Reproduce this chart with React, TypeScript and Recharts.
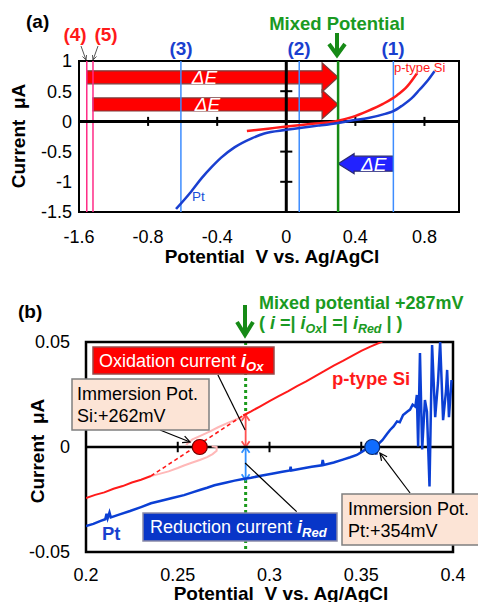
import React from 'react';
import { LineChart, Line, XAxis, YAxis, ReferenceLine, ReferenceArea, ReferenceDot } from 'recharts';

const FONT = '"Liberation Sans", Arial, Helvetica, sans-serif';

// ---------- panel (a) ----------
// the axis is broken at its left end: the -1.2 position carries the label -1.6
const xTicksA = [-1.2, -0.8, -0.4, 0, 0.4, 0.8];
const xTickLabelsA = ['-1.6', '-0.8', '-0.4', '0', '0.4', '0.8'];
const yTicksA = [-1.5, -1, -0.5, 0, 0.5, 1];
const yTickLabelsA = ['-1.5', '-1', '-0.5', '0', '0.5', '1'];
const xTickMarksA = [-0.8, -0.4, 0.4, 0.8];
const yTickMarksA = [0.5, -0.5, -1];

const siCurveA = [
  { x: -0.228, y: -0.16 }, { x: -0.106, y: -0.12 }, { x: 0, y: -0.085 },
  { x: 0.15, y: -0.04 }, { x: 0.28, y: 0.0 }, { x: 0.38, y: 0.07 },
  { x: 0.47, y: 0.17 }, { x: 0.56, y: 0.29 }, { x: 0.64, y: 0.43 },
  { x: 0.7, y: 0.58 }, { x: 0.755, y: 0.79 },
];
const ptCurveA = [
  { x: -0.638, y: -1.45 }, { x: -0.55, y: -1.16 }, { x: -0.49, y: -0.94 },
  { x: -0.43, y: -0.75 }, { x: -0.377, y: -0.6 }, { x: -0.3, y: -0.43 },
  { x: -0.2, y: -0.28 }, { x: -0.127, y: -0.2 }, { x: 0, y: -0.14 },
  { x: 0.1, y: -0.1 }, { x: 0.185, y: -0.07 }, { x: 0.3, y: -0.025 },
  { x: 0.38, y: 0.015 }, { x: 0.475, y: 0.055 }, { x: 0.567, y: 0.12 },
  { x: 0.62, y: 0.17 }, { x: 0.67, y: 0.26 }, { x: 0.725, y: 0.38 },
  { x: 0.77, y: 0.52 }, { x: 0.82, y: 0.68 }, { x: 0.858, y: 0.83 },
];

const refLinesA = [
  { name: '(4)', x: -1.155, color: '#ff2a86' },
  { name: '(5)', x: -1.119, color: '#ff2a86' },
  { name: '(3)', x: -0.61, color: '#3d8dff' },
  { name: '(2)', x: 0.075, color: '#3d8dff' },
  { name: '(1)', x: 0.62, color: '#3d8dff' },
];
const mixedPotentialA = 0.3;

const deltaEArrows = [
  { from: -1.155, to: 0.3, yLow: 0.49, yHigh: 0.97, fill: '#ff0000', stroke: '#7a3c3c', body: 0.45 },
  { from: -1.119, to: 0.3, yLow: 0.04, yHigh: 0.52, fill: '#ff0000', stroke: '#7a3c3c', body: 0.45 },
  { from: 0.62, to: 0.3, yLow: -0.866, yHigh: -0.534, fill: '#2222ff', stroke: '#2a2a70', body: 0.75 },
];

// ---------- panel (b) ----------
const xTicksB = [0.2, 0.25, 0.3, 0.35, 0.4];
const xTickLabelsB = ['0.2', '0.25', '0.3', '0.35', '0.4'];
const yTicksB = [-0.05, 0, 0.05];
const yTickLabelsB = ['-0.05', '0', '0.05'];
const xTickMarksB = [0.25, 0.3, 0.35];

const siLowB = [
  [0.2, -0.0243], [0.205, -0.0228], [0.21, -0.0216], [0.215, -0.0199], [0.22, -0.0186],
  [0.225, -0.0169], [0.23, -0.0156], [0.2354, -0.0138],
].map(([x, y]) => ({ x, y }));
const siDashB = [[0.2354, -0.0138], [0.2856, 0.015]].map(([x, y]) => ({ x, y }));
const siHighB = [
  [0.2856, 0.015], [0.29, 0.017], [0.295, 0.0194], [0.3, 0.0218], [0.305, 0.0242],
  [0.31, 0.0265], [0.315, 0.029], [0.32, 0.0312], [0.325, 0.0338], [0.33, 0.0362],
  [0.335, 0.0388], [0.34, 0.041], [0.345, 0.0434], [0.35, 0.0458], [0.355, 0.0478],
  [0.3615, 0.0502],
].map(([x, y]) => ({ x, y }));
// faint trace of the first sweep
const siTraceLowerB = [
  [0.2354, -0.0138], [0.24, -0.0128], [0.245, -0.0116], [0.25, -0.01], [0.2534, -0.0088],
  [0.258, -0.0074], [0.262, -0.0062], [0.266, -0.0048], [0.269, -0.0034], [0.2712, -0.0018],
  [0.2712, 0.0], [0.2685, 0.0004],
].map(([x, y]) => ({ x, y }));
const siTraceUpperB = [
  [0.2545, 0.001], [0.258, 0.0036], [0.262, 0.0052], [0.2676, 0.0074], [0.272, 0.0094],
  [0.277, 0.0114], [0.2815, 0.013], [0.2856, 0.0145],
].map(([x, y]) => ({ x, y }));
const ptCurveB = [
  [0.2, -0.0376], [0.204, -0.0366], [0.208, -0.0352], [0.2105, -0.0344], [0.2112, -0.0318],
  [0.2118, -0.034], [0.2128, -0.0312], [0.2135, -0.0335], [0.218, -0.0322], [0.224, -0.0305],
  [0.23, -0.0286], [0.2354, -0.0268], [0.241, -0.0256], [0.247, -0.0243], [0.2534, -0.0229],
  [0.258, -0.0216], [0.262, -0.0205], [0.266, -0.0194], [0.27, -0.0182], [0.276, -0.017],
  [0.281, -0.016], [0.2856, -0.0152], [0.29, -0.0146], [0.296, -0.0136], [0.302, -0.0126],
  [0.307, -0.0118], [0.3112, -0.0112], [0.3115, -0.0094], [0.3119, -0.0112], [0.317, -0.0104],
  [0.323, -0.0094], [0.3285, -0.0087], [0.329, -0.0062], [0.3296, -0.0086], [0.335, -0.0074],
  [0.34, -0.006], [0.344, -0.0049], [0.3476, -0.0038], [0.3505, -0.0022], [0.353, -0.0008],
  [0.3555, 0.0004], [0.3575, 0.0008], [0.3582, -0.0036], [0.359, 0.0012], [0.3615, 0.0032],
  [0.364, 0.0062], [0.3657, 0.0081], [0.3676, 0.0098], [0.3695, 0.0122], [0.371, 0.0118],
  [0.3728, 0.0152], [0.375, 0.0168], [0.3766, 0.0178], [0.378, 0.0202], [0.3795, 0.0192],
  [0.3803, 0.0248], [0.381, 0.0002], [0.382, 0.0448], [0.3832, -0.0012], [0.3847, 0.0224],
  [0.3858, 0.0168], [0.3872, -0.0188], [0.3886, 0.0486], [0.3903, 0.0142], [0.3918, 0.0305],
  [0.393, 0.05], [0.3946, 0.0128], [0.3962, 0.0268], [0.3968, 0.0367], [0.3978, 0.0142],
  [0.3992, 0.0319],
].map(([x, y]) => ({ x, y }));

const mixedPotentialB = 0.287;
const immersionSi = 0.262;
const immersionPt = 0.356;
const currentArrowsB = [
  { y1: 0, y2: 0.0152, color: '#ff5050' },
  { y1: -0.0157, y2: 0, color: '#2f8fff' },
];
// the dotted mixed-potential line is hidden behind the two current arrows
const mixedLineSpansB = [
  { y1: 0.0152, y2: 0.05 },
  { y1: -0.05, y2: -0.0157 },
];
const leadersB = [
  { from: { x: 0.2719, y: 0.0343 }, to: { x: 0.2867, y: 0.0081 }, head: false },
  { from: { x: 0.3148, y: -0.0308 }, to: { x: 0.2867, y: -0.0076 }, head: false },
  { from: { x: 0.2403, y: 0.0081 }, to: { x: 0.2567, y: 0.0024 }, head: true },
  { from: { x: 0.3766, y: -0.0219 }, to: { x: 0.3602, y: -0.0029 }, head: true },
];

const openHead = (x1: number, y1: number, x2: number, y2: number, size: number, color: string, w = 1.3, spread = 0.45) => {
  const ang = Math.atan2(y2 - y1, x2 - x1);
  const a1 = ang + Math.PI - spread;
  const a2 = ang + Math.PI + spread;
  return (
    <polyline
      points={`${x2 + size * Math.cos(a1)},${y2 + size * Math.sin(a1)} ${x2},${y2} ${x2 + size * Math.cos(a2)},${y2 + size * Math.sin(a2)}`}
      fill="none" stroke={color} strokeWidth={w}
    />
  );
};

const leaderShape = (head: boolean) => (p: any) => (
  <g>
    <line x1={p.x1} y1={p.y1} x2={p.x2} y2={p.y2} stroke="#000" strokeWidth={1.2} />
    {head ? openHead(p.x1, p.y1, p.x2, p.y2, 8, '#000', 1.2) : null}
  </g>
);

// vertical dotted line drawn in the middle of a narrow reference area
const dottedShape = (color: string) => (p: any) => {
  const cx = p.x + p.width / 2;
  return <line x1={cx} y1={p.y} x2={cx} y2={p.y + p.height} stroke={color} strokeWidth={3} strokeDasharray="3 3" />;
};

// vertical double-headed arrow drawn in the middle of a narrow reference area
const doubleArrowShape = (color: string) => (p: any) => {
  const cx = p.x + p.width / 2;
  const top = p.y;
  const bottom = p.y + p.height;
  return (
    <g>
      <line x1={cx} y1={top} x2={cx} y2={bottom} stroke={color} strokeWidth={1.8} />
      {openHead(cx, bottom, cx, top, 7, color, 1.8, 0.6)}
      {openHead(cx, top, cx, bottom, 7, color, 1.8, 0.6)}
    </g>
  );
};

const blockArrow = (dir: number, fill: string, stroke: string, body: number) => (p: any) => {
  const { x, y, width, height } = p;
  const cy = y + height / 2;
  const hh = height / 2;
  const hb = hh * body;
  const headLen = 16;
  let pts: number[][];
  let tx: number;
  if (dir > 0) {
    const tip = x + width;
    const base = tip - headLen;
    pts = [[x, cy - hb], [base, cy - hb], [base, cy - hh], [tip, cy], [base, cy + hh], [base, cy + hb], [x, cy + hb]];
    tx = x + (width - headLen) / 2;
  } else {
    const base = x + headLen;
    const end = x + width;
    pts = [[end, cy - hb], [base, cy - hb], [base, cy - hh], [x, cy], [base, cy + hh], [base, cy + hb], [end, cy + hb]];
    tx = base + (end - base) / 2;
  }
  return (
    <g>
      <polygon points={pts.map((q) => q.join(',')).join(' ')} fill={fill} stroke={stroke} strokeWidth={1.2} />
      <text x={tx} y={cy} dy="0.36em" textAnchor="middle" fill="#fff" fontStyle="italic" fontSize={19} fontFamily={FONT}>
        ΔE
      </text>
    </g>
  );
};

const tickStyle = { fontSize: 18, fill: '#000', fontFamily: FONT };

const PanelA = () => (
  <LineChart width={478} height={280} margin={{ top: 61, right: 19, bottom: 38, left: 19 }}>
    <XAxis
      type="number" dataKey="x" domain={[-1.2, 1.0]} ticks={xTicksA} interval={0}
      tickFormatter={(v: number) => xTickLabelsA[xTicksA.indexOf(v)]}
      axisLine={false} tickLine={false} tickSize={0} tickMargin={18} tick={tickStyle} allowDataOverflow
    />
    <YAxis
      type="number" domain={[-1.5, 1]} ticks={yTicksA} interval={0}
      tickFormatter={(v: number) => yTickLabelsA[yTicksA.indexOf(v)]}
      axisLine={false} tickLine={false} tickSize={0} tickMargin={7} tick={tickStyle} allowDataOverflow
    />
    {refLinesA.map((r) => (
      <ReferenceLine key={r.name} x={r.x} stroke={r.color} strokeWidth={1.5} />
    ))}
    <ReferenceLine y={0} stroke="#000" strokeWidth={3} />
    <ReferenceLine x={0} stroke="#000" strokeWidth={3} />
    {xTickMarksA.map((t) => (
      <ReferenceLine key={'xt' + t} segment={[{ x: t, y: -0.075 }, { x: t, y: 0.075 }]} stroke="#000" strokeWidth={2} />
    ))}
    {yTickMarksA.map((t) => (
      <ReferenceLine key={'yt' + t} segment={[{ x: -0.035, y: t }, { x: 0.035, y: t }]} stroke="#000" strokeWidth={2} />
    ))}
    <ReferenceLine x={mixedPotentialA} stroke="#168a16" strokeWidth={2.5} />
    {deltaEArrows.map((a, i) => (
      <ReferenceArea
        key={'de' + i} x1={a.from} x2={a.to} y1={a.yLow} y2={a.yHigh}
        shape={blockArrow(a.to > a.from ? 1 : -1, a.fill, a.stroke, a.body)}
      />
    ))}
    <Line data={siCurveA} dataKey="y" type="monotone" stroke="#ff1a1a" strokeWidth={2.5} dot={false} isAnimationActive={false} />
    <Line data={ptCurveA} dataKey="y" type="monotone" stroke="#1a3fd0" strokeWidth={2.5} dot={false} isAnimationActive={false} />
    <ReferenceArea x1={-1.2} x2={1.0} y1={-1.5} y2={1} fill="none" stroke="#000" strokeWidth={2} />
  </LineChart>
);

const PanelB = () => (
  <LineChart width={478} height={322} margin={{ top: 62, right: 25, bottom: 20, left: 26 }}>
    <XAxis
      type="number" dataKey="x" domain={[0.2, 0.4]} ticks={xTicksB} interval={0}
      tickFormatter={(v: number) => xTickLabelsB[xTicksB.indexOf(v)]}
      axisLine={false} tickLine={false} tickSize={0} tickMargin={16} tick={tickStyle} allowDataOverflow
    />
    <YAxis
      type="number" domain={[-0.05, 0.05]} ticks={yTicksB} interval={0}
      tickFormatter={(v: number) => yTickLabelsB[yTicksB.indexOf(v)]}
      axisLine={false} tickLine={false} tickSize={0} tickMargin={16} tick={tickStyle} allowDataOverflow
    />
    <ReferenceLine y={0} stroke="#000" strokeWidth={2.5} />
    {xTickMarksB.map((t) => (
      <ReferenceLine key={'xt' + t} segment={[{ x: t, y: -0.0025 }, { x: t, y: 0.0025 }]} stroke="#000" strokeWidth={2} />
    ))}
    <Line data={siTraceLowerB} dataKey="y" stroke="#ffb8b8" strokeWidth={2} dot={false} isAnimationActive={false} />
    <Line data={siTraceUpperB} dataKey="y" stroke="#ffb8b8" strokeWidth={2} dot={false} isAnimationActive={false} />
    <Line data={siLowB} dataKey="y" stroke="#ff1a1a" strokeWidth={2} dot={false} isAnimationActive={false} />
    <Line data={siDashB} dataKey="y" stroke="#ff1a1a" strokeWidth={1.6} strokeDasharray="4 3" dot={false} isAnimationActive={false} />
    <Line data={siHighB} dataKey="y" stroke="#ff1a1a" strokeWidth={2} dot={false} isAnimationActive={false} />
    <Line data={ptCurveB} dataKey="y" stroke="#0b3fd4" strokeWidth={2.5} dot={false} isAnimationActive={false} />
    {leadersB.map((l, i) => (
      <ReferenceLine key={'ld' + i} segment={[l.from, l.to]} ifOverflow="visible" shape={leaderShape(l.head)} />
    ))}
    {mixedLineSpansB.map((s, i) => (
      <ReferenceArea
        key={'ml' + i} x1={mixedPotentialB - 0.002} x2={mixedPotentialB + 0.002} y1={s.y1} y2={s.y2}
        shape={dottedShape('#1c9a1c')}
      />
    ))}
    {currentArrowsB.map((a, i) => (
      <ReferenceArea
        key={'ca' + i} x1={mixedPotentialB - 0.002} x2={mixedPotentialB + 0.002} y1={a.y1} y2={a.y2}
        ifOverflow="visible" shape={doubleArrowShape(a.color)}
      />
    ))}
    <ReferenceDot x={immersionSi} y={0} r={7.5} fill="#ff0000" stroke="#6a0000" strokeWidth={1.2} />
    <ReferenceDot x={immersionPt} y={0} r={7.5} fill="#0f6cff" stroke="#0a2a6a" strokeWidth={1.2} />
    <ReferenceArea x1={0.2} x2={0.4} y1={-0.05} y2={0.05} fill="none" stroke="#000" strokeWidth={2.5} />
  </LineChart>
);

const GREEN = '#1a9a22';
const txt = { fontFamily: FONT };

const Overlay = () => (
  <svg width={478} height={602} style={{ position: 'absolute', left: 0, top: 0, pointerEvents: 'none' }}>
    {/* panel (a) */}
    <text x={26} y={28} fontSize={19} fontWeight="bold" style={txt}>(a)</text>
    <text x={337} y={30} fontSize={18.5} fontWeight="bold" fill={GREEN} textAnchor="middle" style={txt}>Mixed Potential</text>
    <line x1={337} y1={33} x2={337} y2={52} stroke="#168a16" strokeWidth={4} />
    <polyline points="329,44 337,55 345,44" fill="none" stroke="#168a16" strokeWidth={4} />
    <text x={75} y={41} fontSize={19} fontWeight="bold" fill="#ff1a1a" textAnchor="middle" style={txt}>(4)</text>
    <text x={106} y={41} fontSize={19} fontWeight="bold" fill="#ff1a1a" textAnchor="middle" style={txt}>(5)</text>
    <line x1={81} y1={46} x2={86} y2={60} stroke="#555" strokeWidth={1} />
    {openHead(81, 46, 86, 60, 5, '#555', 1)}
    <line x1={98} y1={46} x2={93} y2={60} stroke="#555" strokeWidth={1} />
    {openHead(98, 46, 93, 60, 5, '#555', 1)}
    <text x={181} y={55} fontSize={19} fontWeight="bold" fill="#1a3fcf" textAnchor="middle" style={txt}>(3)</text>
    <text x={299} y={55} fontSize={19} fontWeight="bold" fill="#1a3fcf" textAnchor="middle" style={txt}>(2)</text>
    <text x={393} y={55} fontSize={19} fontWeight="bold" fill="#1a3fcf" textAnchor="middle" style={txt}>(1)</text>
    <text x={394} y={72} fontSize={13} fill="#ff1a1a" style={txt}>p-type Si</text>
    <text x={192} y={201} fontSize={13.5} fill="#1a4fd8" style={txt}>Pt</text>
    <text transform="translate(25,136) rotate(-90)" fontSize={19} fontWeight="bold" textAnchor="middle" style={txt}>
      {'Current\u00a0 μA'}
    </text>
    <text x={272} y={263} fontSize={19} fontWeight="bold" textAnchor="middle" style={txt}>
      {'Potential\u00a0 V vs. Ag/AgCl'}
    </text>

    {/* panel (b) */}
    <text x={18} y={318} fontSize={19} fontWeight="bold" style={txt}>(b)</text>
    <line x1={245} y1={305} x2={245} y2={332} stroke="#168a16" strokeWidth={4} />
    <polyline points="237,322 245,335 253,322" fill="none" stroke="#168a16" strokeWidth={4} />
    <text x={259} y={309} fontSize={18} fontWeight="bold" fill={GREEN} style={txt}>Mixed potential +287mV</text>
    <text x={259} y={329} fontSize={18} fontWeight="bold" fill={GREEN} style={txt}>
      {'( '}<tspan fontStyle="italic">i</tspan>{' =| '}<tspan fontStyle="italic">i</tspan>
      <tspan fontStyle="italic" fontSize={12.5} dy={4}>Ox</tspan>
      <tspan dy={-4}>{'| =| '}</tspan><tspan fontStyle="italic">i</tspan>
      <tspan fontStyle="italic" fontSize={12.5} dy={4}>Red</tspan>
      <tspan dy={-4}>{' | )'}</tspan>
    </text>

    <rect x={93} y={347} width={181} height={27} fill="#ff0000" stroke="#9a4848" strokeWidth={1.5} />
    <text x={99} y={367} fontSize={18} fill="#fff" style={txt}>
      {'Oxidation current '}<tspan fontWeight="bold" fontStyle="italic">i</tspan>
      <tspan fontWeight="bold" fontStyle="italic" fontSize={13} dy={4}>Ox</tspan>
    </text>

    <rect x={72} y={379} width={137} height={51} fill="#fce4d6" stroke="#7f7f7f" strokeWidth={1.5} />
    <text x={77} y={400} fontSize={18} fill="#000" style={txt}>Immersion Pot.</text>
    <text x={77} y={422} fontSize={18} fill="#000" style={txt}>Si:+262mV</text>

    <rect x={143} y={513} width={194} height={28} fill="#0836c8" stroke="#8a8aa8" strokeWidth={1.5} />
    <text x={150} y={533} fontSize={18} fill="#fff" style={txt}>
      {'Reduction current '}<tspan fontWeight="bold" fontStyle="italic">i</tspan>
      <tspan fontWeight="bold" fontStyle="italic" fontSize={13} dy={4}>Red</tspan>
    </text>

    <rect x={342} y={494} width={140} height={51} fill="#fce4d6" stroke="#7f7f7f" strokeWidth={1.5} />
    <text x={348} y={515} fontSize={18} fill="#000" style={txt}>Immersion Pot.</text>
    <text x={348} y={537} fontSize={18} fill="#000" style={txt}>Pt:+354mV</text>

    <text x={332} y={385} fontSize={18.5} fontWeight="bold" fill="#ff1a1a" style={txt}>p-type Si</text>
    <text x={102} y={540} fontSize={18.5} fontWeight="bold" fill="#1a3fcf" style={txt}>Pt</text>
    <text transform="translate(44,451) rotate(-90)" fontSize={19} fontWeight="bold" textAnchor="middle" style={txt}>
      {'Current\u00a0 μA'}
    </text>
    <text x={281} y={600} fontSize={19} fontWeight="bold" textAnchor="middle" style={txt}>
      {'Potential\u00a0 V vs. Ag/AgCl'}
    </text>
  </svg>
);

export default function App() {
  return (
    <div style={{ position: 'absolute', left: 0, top: 0, width: 478, height: 602, background: '#fff', fontFamily: FONT, overflow: 'hidden' }}>
      <div style={{ position: 'absolute', left: 0, top: 0 }}>
        <PanelA />
      </div>
      <div style={{ position: 'absolute', left: 0, top: 280 }}>
        <PanelB />
      </div>
      <Overlay />
    </div>
  );
}
